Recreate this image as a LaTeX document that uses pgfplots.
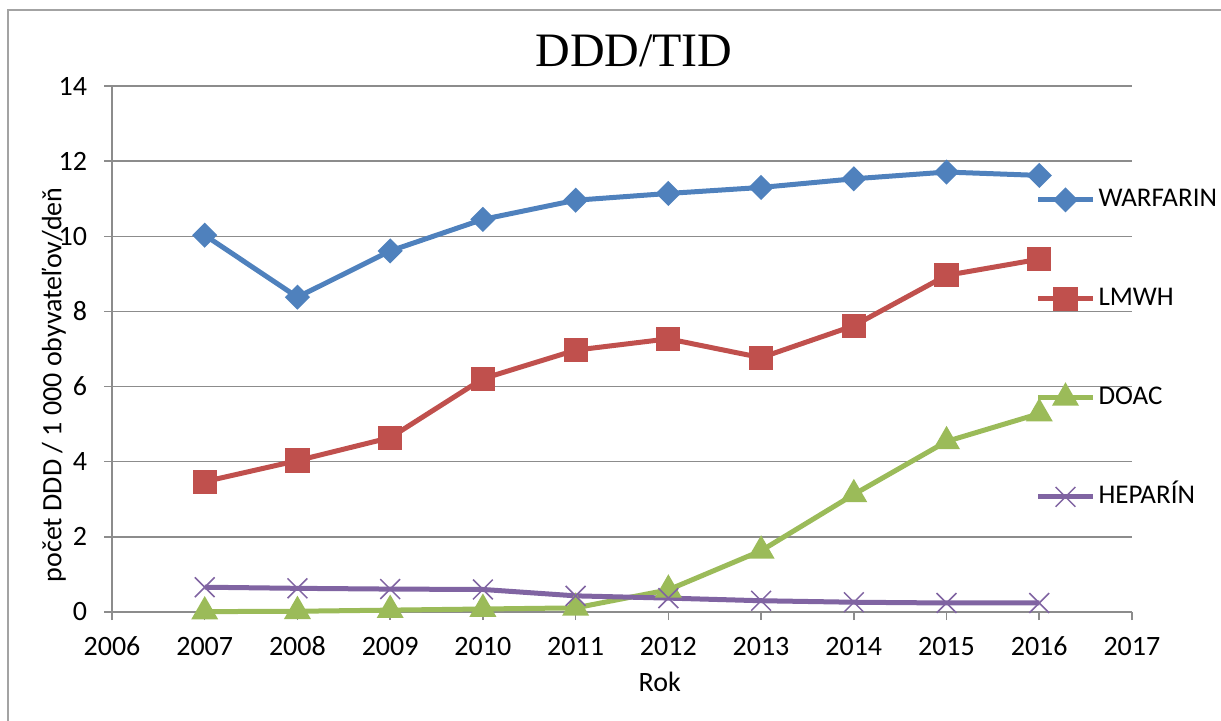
\documentclass[border=0pt]{standalone}
\usepackage{fontspec}
\setmainfont{Carlito}
\newfontfamily\titlefont{Liberation Serif}
\usepackage{pgfplots}
\pgfplotsset{compat=1.18}
\definecolor{cblue}{HTML}{4F81BD}
\definecolor{cred}{HTML}{C0504D}
\definecolor{cgreen}{HTML}{9BBB59}
\definecolor{cpurple}{HTML}{8064A2}
\definecolor{cgrid}{HTML}{8C8C8C}
\begin{document}
\begin{tikzpicture}
\useasboundingbox (0,0) rectangle (610.5pt,360pt);
\draw[cgrid!80, line width=0.75pt] (4pt,-2pt) -- (4pt,355pt) -- (612pt,355pt);
\node[font=\titlefont\fontsize{24}{28}\selectfont, inner sep=0pt] at (317pt,334.5pt) {DDD/TID};
\begin{axis}[
  at={(56pt,54pt)}, anchor=south west,
  scale only axis, width=510pt, height=263pt,
  xmin=2006, xmax=2017, ymin=0, ymax=14,
  xtick={2006,2007,...,2017}, ytick={0,2,...,14},
  axis x line=bottom, axis y line=left,
  axis line style={draw=cgrid, line width=0.75pt, -},
  ymajorgrids, grid style={cgrid, line width=0.75pt},
  tick align=outside, major tick length=4pt,
  tick style={cgrid, line width=0.75pt},
  /pgf/number format/assume math mode=true,
  /pgf/number format/1000 sep={},
  ticklabel style={font=\fontsize{14}{16}\selectfont},
  yticklabel style={xshift=-5pt},
  xticklabel style={yshift=-4.5pt, anchor=north, text height=9.5pt, text depth=0pt},
  xlabel={Rok}, ylabel={počet DDD / 1 000 obyvateľov/deň},
  label style={font=\fontsize{14}{16}\selectfont},
  xlabel style={at={(axis description cs:0.537,-0.133)}, anchor=center},
  ylabel style={at={(axis description cs:-0.057,0.432)}, anchor=center},
  legend style={draw=none, fill=none, at={(axis description cs:0.905,0.810)}, anchor=north west,
    font=\fontsize{13.5}{16}\selectfont, row sep=36pt, inner sep=0pt,
    nodes={inner sep=1.5pt, text height=8.5pt, text depth=2pt}},
  legend cell align=left,
  legend image code/.code={\draw[mark repeat=2,mark phase=2,#1] plot coordinates {(0pt,0pt) (13.75pt,0pt) (27.5pt,0pt)};},
  every axis plot/.append style={line width=2.5pt},
  clip=false,
]
\addplot[cblue, mark=square*, mark size=3.2pt, mark options={rotate=45, solid}] coordinates {
(2007,10.03) (2008,8.38) (2009,9.61) (2010,10.45) (2011,10.96) (2012,11.14) (2013,11.30) (2014,11.53) (2015,11.71) (2016,11.62)};
\addlegendentry{WARFARIN}
\addplot[cred, mark=square*, mark size=4.8pt] coordinates {
(2007,3.47) (2008,4.03) (2009,4.64) (2010,6.21) (2011,6.97) (2012,7.27) (2013,6.77) (2014,7.62) (2015,8.96) (2016,9.39)};
\addlegendentry{LMWH}
\addplot[cgreen, mark=triangle*, mark size=5.3pt] coordinates {
(2007,0.01) (2008,0.02) (2009,0.05) (2010,0.08) (2011,0.11) (2012,0.59) (2013,1.63) (2014,3.13) (2015,4.54) (2016,5.28)};
\addlegendentry{DOAC}
\addplot[cpurple, mark=x, mark size=7pt, mark options={line width=0.75pt}] coordinates {
(2007,0.66) (2008,0.63) (2009,0.61) (2010,0.60) (2011,0.43) (2012,0.37) (2013,0.30) (2014,0.26) (2015,0.24) (2016,0.24)};
\addlegendentry{HEPARÍN}
\end{axis}
\end{tikzpicture}
\end{document}
